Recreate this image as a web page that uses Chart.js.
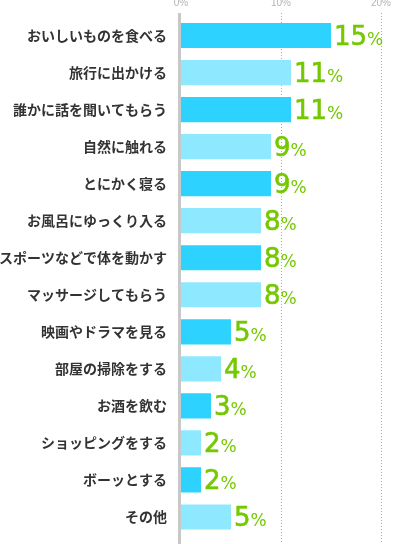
<!DOCTYPE html>
<html lang="ja">
<head>
  <meta charset="UTF-8">
  <title>ストレス解消法</title>
  <script src="https://cdn.jsdelivr.net/npm/chart.js@4.4.0/dist/chart.umd.min.js"></script>
  <style>
    html, body { margin: 0; padding: 0; background: #fff; }
    #wrap { width: 394px; height: 544px; position: relative; }
  </style>
</head>
<body>
  <div id="wrap"><canvas id="chart"></canvas></div>

  <script>
    const categories = [
      'おいしいものを食べる', '旅行に出かける', '誰かに話を聞いてもらう', '自然に触れる',
      'とにかく寝る', 'お風呂にゆっくり入る', 'スポーツなどで体を動かす', 'マッサージしてもらう',
      '映画やドラマを見る', '部屋の掃除をする', 'お酒を飲む', 'ショッピングをする',
      'ボーッとする', 'その他'
    ];
    const percents = [15, 11, 11, 9, 9, 8, 8, 8, 5, 4, 3, 2, 2, 5];
    const xTicks = [0, 10, 20];

    const DARK = '#2ed2ff';
    const LIGHT = '#8ee8ff';
    const GREEN = '#74c800';

    // dotted guides + thick grey axis line, running to the bottom edge
    const guides = {
      id: 'guides',
      beforeDatasetsDraw(chart) {
        const { ctx, scales: { x }, chartArea } = chart;
        const top = chartArea.top - 4;
        const bottom = chart.height;
        ctx.save();
        ctx.strokeStyle = '#aaaaaa';
        ctx.lineWidth = 1;
        ctx.setLineDash([1, 2]);
        xTicks.slice(1).forEach(v => {
          const px = Math.round(x.getPixelForValue(v)) + 0.5;
          ctx.beginPath();
          ctx.moveTo(px, top);
          ctx.lineTo(px, bottom);
          ctx.stroke();
        });
        ctx.setLineDash([]);
        ctx.strokeStyle = '#c8c8c8';
        ctx.lineWidth = 3;
        const ax = x.getPixelForValue(0) - 1.5;
        ctx.beginPath();
        ctx.moveTo(ax, top);
        ctx.lineTo(ax, bottom);
        ctx.stroke();
        ctx.restore();
      }
    };

    // big green value labels: number + smaller %
    const valueLabels = {
      id: 'valueLabels',
      afterDatasetsDraw(chart) {
        const { ctx } = chart;
        const meta = chart.getDatasetMeta(0);
        ctx.save();
        ctx.fillStyle = GREEN;
        ctx.strokeStyle = GREEN;
        ctx.lineWidth = 0.6;
        ctx.textBaseline = 'alphabetic';
        ctx.textAlign = 'left';
        meta.data.forEach((bar, i) => {
          const num = String(percents[i]);
          let x = bar.x + 3;
          const y = bar.y + 9.5;
          ctx.font = '26px "DejaVu Sans", sans-serif';
          ctx.fillText(num, x, y);
          ctx.strokeText(num, x, y);
          x += ctx.measureText(num).width;
          ctx.font = '17px "DejaVu Sans", sans-serif';
          ctx.fillText('%', x, y);
        });
        ctx.restore();
      }
    };

    new Chart(document.getElementById('chart'), {
      type: 'bar',
      data: {
        labels: categories,
        datasets: [{
          data: percents,
          backgroundColor: ctx => (ctx.dataIndex % 2 ? LIGHT : DARK),
          borderWidth: 0,
          categoryPercentage: 1,
          barPercentage: 0.68
        }]
      },
      options: {
        indexAxis: 'y',
        responsive: true,
        maintainAspectRatio: false,
        animation: false,
        layout: { padding: { top: 0, right: 13, bottom: 8.5, left: 0 } },
        plugins: {
          legend: { display: false },
          tooltip: { enabled: false }
        },
        scales: {
          x: {
            position: 'top',
            min: 0,
            max: 20,
            grid: { display: false, drawTicks: false },
            border: { display: false },
            afterFit: s => {
              s.height = 17;
              s.paddingLeft = 0;
              s.paddingRight = 0;
            },
            ticks: {
              stepSize: 10,
              padding: 8,
              color: '#b4b4b4',
              font: { family: '"Liberation Sans", Arial, sans-serif', size: 10 },
              callback: v => (xTicks.includes(v) ? v + '%' : '')
            }
          },
          y: {
            grid: { display: false, drawTicks: false },
            border: { display: false },
            afterFit: s => {
              s.width = 181;
              s.paddingTop = 0;
              s.paddingBottom = 0;
            },
            ticks: {
              autoSkip: false,
              padding: 14,
              color: '#333333',
              font: { family: '"Noto Sans CJK JP", sans-serif', size: 14, weight: 'bold' }
            }
          }
        }
      },
      plugins: [guides, valueLabels]
    });
  </script>
</body>
</html>
